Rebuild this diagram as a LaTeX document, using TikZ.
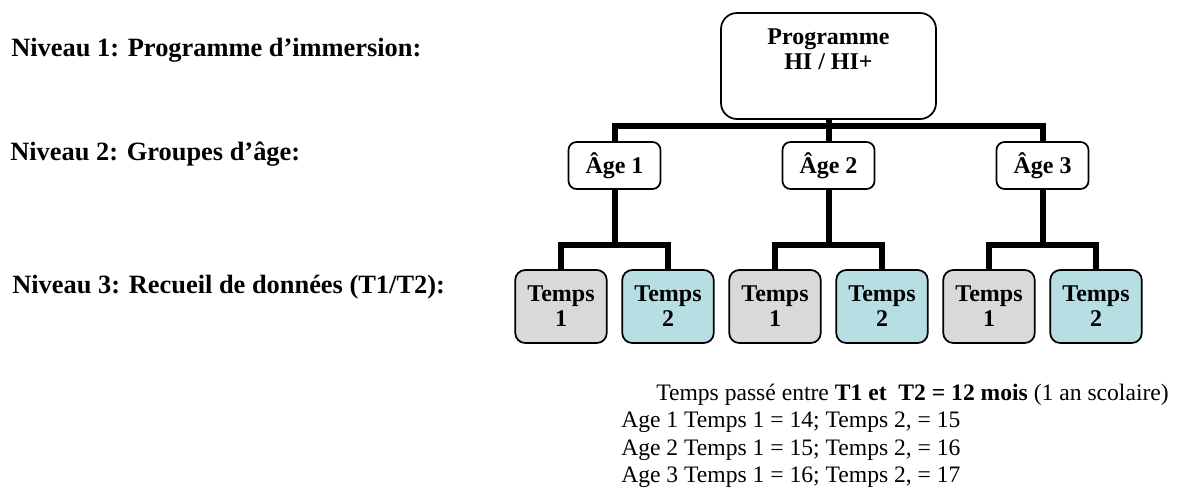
\documentclass[tikz,border=0pt]{standalone}
\usepackage{fontspec}
\setmainfont{Liberation Serif}
\usetikzlibrary{positioning}
\definecolor{tempsgray}{HTML}{D9D9D9}
\definecolor{tempsblue}{HTML}{B7DEE3}

\begin{document}
\begin{tikzpicture}[x=0.75pt, y=-0.75pt, node distance=160.5pt]
	\tikzset{
		topbox/.style={rectangle, rounded corners=12pt, minimum width=161.25pt, minimum height=79.5pt, align=center, draw=black, line width=1.3pt, font=\fontsize{18}{18.75}\selectfont\bfseries},
		agebox/.style={rectangle, rounded corners=6pt, minimum width=69pt, minimum height=35.25pt, align=center, draw=black, line width=1.3pt, font=\fontsize{18}{18.75}\selectfont\bfseries},
		tempsone/.style={agebox, rounded corners=7.5pt, minimum width=68.6pt, minimum height=54.75pt, fill=tempsgray},
		tempstwo/.style={agebox, rounded corners=7.5pt, minimum width=68.6pt, minimum height=54.75pt, fill=tempsblue},
		level/.style={anchor=base west, inner sep=0pt, font=\fontsize{19.8}{22}\selectfont\bfseries},
		note/.style={anchor=base west, inner sep=0pt, font=\fontsize{17.7}{20}\selectfont},
		branch/.style={line width=4.5pt},
	}
	\useasboundingbox (0,0) rectangle (1179,487);
	\node[level] (niv1) at (11,56) {Niveau 1: Programme d’immersion:};
	\node[level] (niv2) at (10,160) {Niveau 2: Groupes d’âge:};
	\node[level] (niv3) at (12,293) {Niveau 3: Recueil de données (T1/T2):};
	\node[topbox] (prog) at (828.5,66) {Programme\\HI / HI+\\[6pt]\mbox{}};
	\node[agebox, below of=prog, node distance=74.625pt] (age2) {Âge 2};
	\node[agebox, left of=age2] (age1) {Âge 1};
	\node[agebox, right of=age2] (age3) {Âge 3};
	\node[tempsone, below of=age1, node distance=105.75pt, xshift=-40.125pt] (t11) {Temps\\1};
	\node[tempstwo, below of=age1, node distance=105.75pt, xshift=40.125pt] (t12) {Temps\\2};
	\node[tempsone, below of=age2, node distance=105.75pt, xshift=-40.125pt] (t21) {Temps\\1};
	\node[tempstwo, below of=age2, node distance=105.75pt, xshift=40.125pt] (t22) {Temps\\2};
	\node[tempsone, below of=age3, node distance=105.75pt, xshift=-40.125pt] (t31) {Temps\\1};
	\node[tempstwo, below of=age3, node distance=105.75pt, xshift=40.125pt] (t32) {Temps\\2};
	\node[note] (duree) at (656,400) {Temps passé entre \textbf{T1 et\ \ T2 = 12 mois} (1 an scolaire)};
	\node[note] (note1) at (621,427.5) {Age 1 Temps 1 = 14; Temps 2, = 15};
	\node[note] (note2) at (621,455) {Age 2 Temps 1 = 15; Temps 2, = 16};
	\node[note] (note3) at (621,482) {Age 3 Temps 1 = 16; Temps 2, = 17};
	%draw branches
	\coordinate (bar2) at (828.5,126);
	\coordinate (bar3) at (0,245);
	\draw[branch] (prog) -- (bar2);
	\draw[branch] (age1.north) |- (bar2) -| (age3.north);
	\draw[branch] (bar2) -- (age2.north);
	\draw[branch] (age1.south) -- (age1 |- bar3);
	\draw[branch] (t11.north) |- (age1 |- bar3) -| (t12.north);
	\draw[branch] (age2.south) -- (age2 |- bar3);
	\draw[branch] (t21.north) |- (age2 |- bar3) -| (t22.north);
	\draw[branch] (age3.south) -- (age3 |- bar3);
	\draw[branch] (t31.north) |- (age3 |- bar3) -| (t32.north);
\end{tikzpicture}
\end{document}
